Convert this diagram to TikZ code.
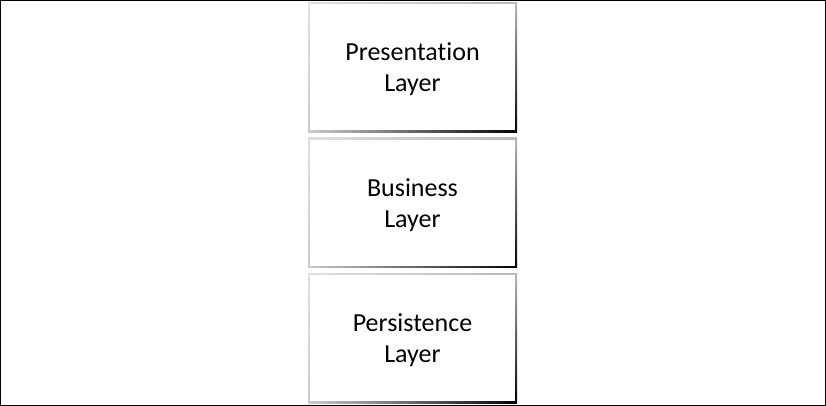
\documentclass[tikz,border=0pt]{standalone}
\usepackage{fontspec}
\setmainfont[Ligatures=NoCommon]{Carlito}
\usetikzlibrary{shadings}
\tikzset{
  layer/.style={minimum width=209pt,minimum height=130pt,inner sep=0pt,align=center,
    text depth=0pt,font=\fontsize{26}{31}\selectfont,
    path picture={
      \shade[upper left=gray!25,upper right=gray!55,lower left=gray!40,lower right=black]
        (path picture bounding box.south west) rectangle (path picture bounding box.north east);
      \fill[white] ([shift={(2pt,2pt)}]path picture bounding box.south west)
        rectangle ([shift={(-2pt,-2pt)}]path picture bounding box.north east);}}
}

\begin{document}
\begin{tikzpicture}[x=1pt,y=1pt]
\newcommand{\xx}{412.5}
\newcommand{\yy}{135.5}
\useasboundingbox (0,0) rectangle (826,406);
\draw[black,line width=1pt] (0.5,0.5) rectangle (825.5,405.5);
\node[layer] (pres) at (\xx,67.5+2*\yy) {Presentation\\Layer};
\node[layer] (bus) at (\xx,67.5+1*\yy) {Business\\Layer};
\node[layer] (pers) at (\xx,67.5+0*\yy) {Persistence\\Layer};
\end{tikzpicture}
\end{document}
